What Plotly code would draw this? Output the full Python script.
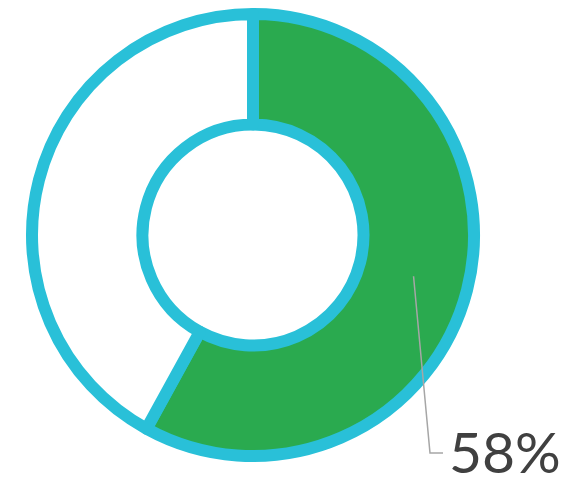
import math
import plotly.graph_objects as go

labels = ["Yes", "No"]
values = [58, 42]
slice_colors = ["#2aaa4f", "#ffffff"]
border_color = "#29c0d8"
label_text = "58%"

W, H = 572, 478
OFF = 8  # page body margin
cx, cy, R = 253 - OFF, 235 - OFF, 221  # pixels (cy from top)
hole = 0.5

fig = go.Figure(go.Pie(
    labels=labels, values=values, sort=False, direction="clockwise", rotation=0,
    hole=hole, textinfo="none", hoverinfo="label+percent",
    marker=dict(colors=slice_colors, line=dict(color=border_color, width=12)),
    domain=dict(x=[(cx - R) / W, (cx + R) / W], y=[(H - cy - R) / H, (H - cy + R) / H]),
    showlegend=False,
))

# leader line from mid-angle of first slice
frac = values[0] / sum(values)
mid = frac / 2 * 2 * math.pi
rmid = R * (1 + hole) / 2
sx = cx + rmid * math.sin(mid)
sy = cy - rmid * math.cos(mid)
ex, ey = 430 - OFF, 453 - OFF
hx = 443 - OFF

def px(x):
    return x / W

def py(y):
    return (H - y) / H

fig.add_shape(type="path", xref="paper", yref="paper",
              path=f"M {px(sx)} {py(sy)} L {px(ex)} {py(ey)} L {px(hx)} {py(ey)}",
              line=dict(color="#a6a6a6", width=1.5))

fig.add_annotation(text=label_text, xref="paper", yref="paper", x=px(447 - OFF), y=py(451 - OFF),
                   xanchor="left", yanchor="middle", showarrow=False,
                   font=dict(family="Lato, sans-serif", size=57, color="#404040"))

fig.update_layout(width=W, height=H, margin=dict(l=0, r=0, t=0, b=0),
                  paper_bgcolor="white", plot_bgcolor="white")
fig.write_html("out.html")
